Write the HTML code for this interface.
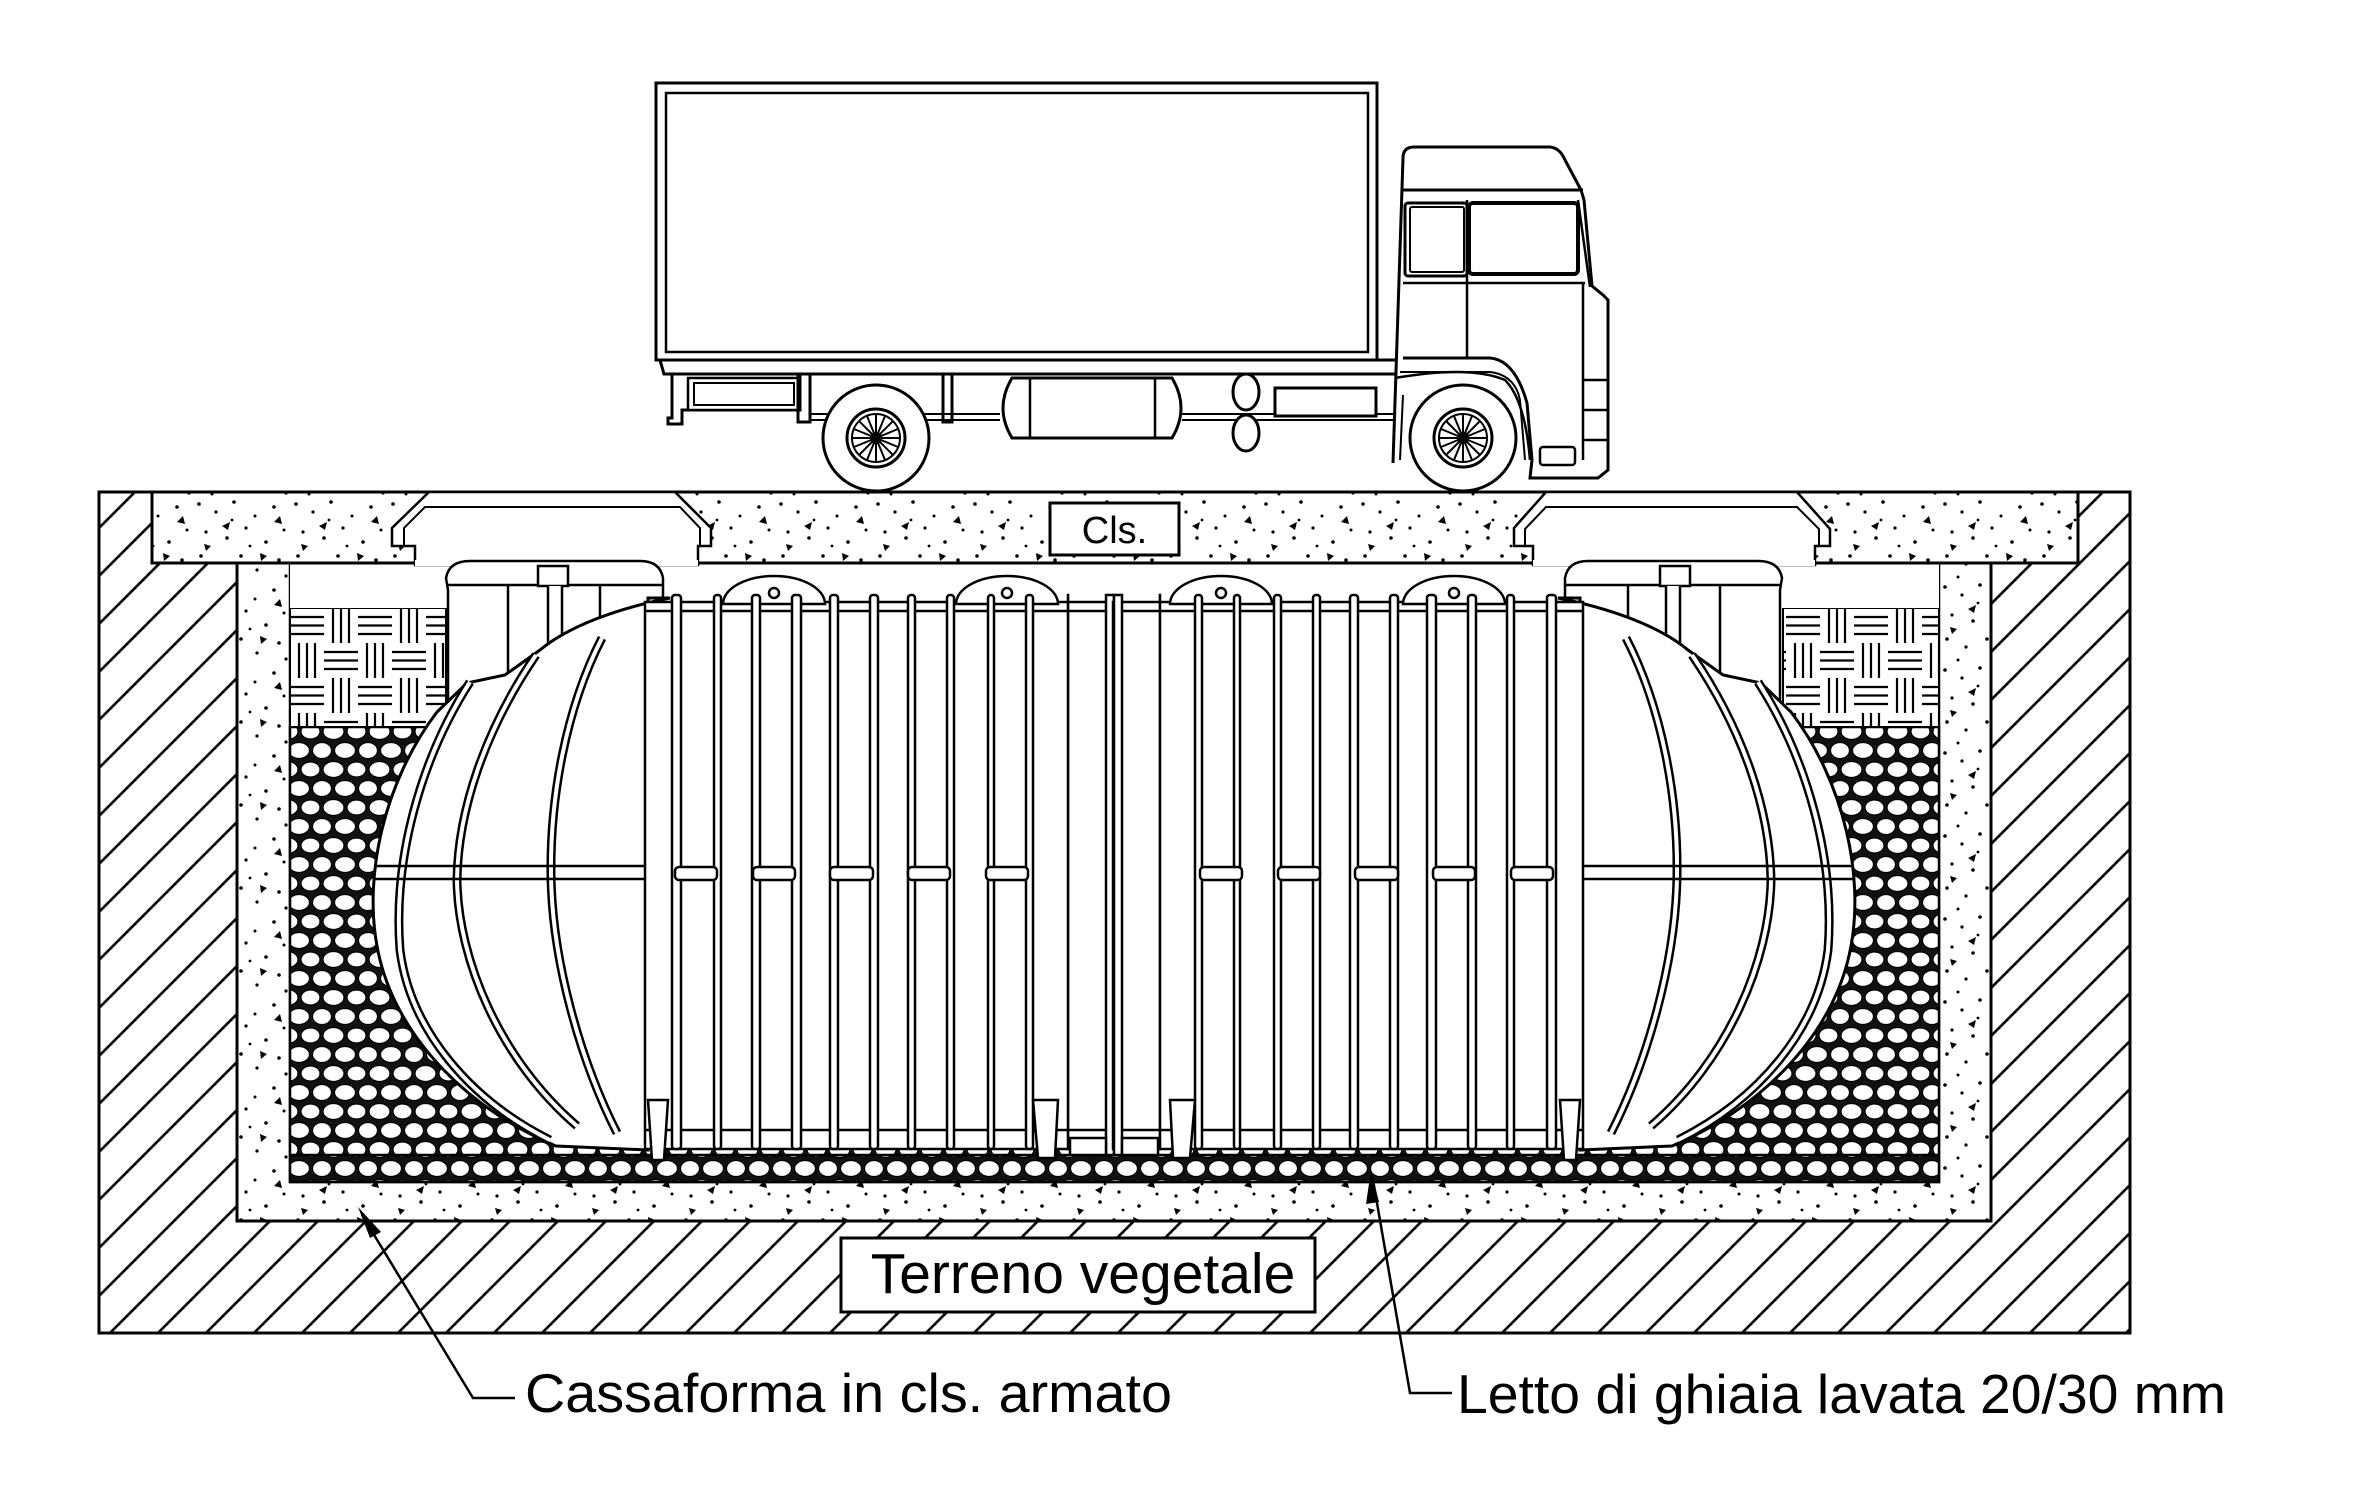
<!DOCTYPE html>
<html><head><meta charset="utf-8"><style>
html,body{margin:0;padding:0;background:#fff;}
svg{display:block;}
text{font-family:"Liberation Sans",Arial,sans-serif;fill:#000;}
</style></head><body>
<svg width="2357" height="1485" viewBox="0 0 2357 1485" xmlns="http://www.w3.org/2000/svg">
<defs>
<pattern id="hatch" patternUnits="userSpaceOnUse" width="48" height="48">
<path d="M-2,5 L5,-2 M3,48 L48,3 M1,50 L50,1" stroke="#000" stroke-width="2.6"/>
</pattern>
<pattern id="speck" patternUnits="userSpaceOnUse" width="97" height="83">
<g fill="#000">
<circle cx="5" cy="6" r="1.8"/><circle cx="22" cy="14" r="1.6"/><circle cx="40" cy="4" r="1.8"/><circle cx="61" cy="18" r="1.5"/>
<circle cx="80" cy="9" r="1.8"/><circle cx="12" cy="34" r="1.6"/><circle cx="33" cy="40" r="1.8"/><circle cx="52" cy="30" r="1.6"/>
<circle cx="72" cy="44" r="1.8"/><circle cx="90" cy="32" r="1.5"/><circle cx="7" cy="58" r="1.8"/><circle cx="26" cy="66" r="1.6"/>
<circle cx="47" cy="58" r="1.8"/><circle cx="63" cy="72" r="1.6"/><circle cx="85" cy="62" r="1.8"/><circle cx="18" cy="79" r="1.5"/>
<circle cx="92" cy="78" r="1.6"/><circle cx="56" cy="48" r="1.4"/><circle cx="38" cy="22" r="1.4"/>
<path d="M28,28 l8,-4 l-2,8z"/><path d="M66,55 l7,3 l-6,5z"/><path d="M80,24 l6,-6 l2,8z"/><path d="M10,46 l7,2 l-5,5z"/>
</g>
</pattern>
<pattern id="gravel" patternUnits="userSpaceOnUse" width="46" height="38">
<rect width="46" height="38" fill="#111"/>
<g fill="#fff" stroke="#000" stroke-width="1.2">
<ellipse cx="11.5" cy="9.5" rx="10.5" ry="8"/><ellipse cx="34.5" cy="9.5" rx="9.5" ry="7.5"/>
<ellipse cx="0" cy="28.5" rx="9.5" ry="8"/><ellipse cx="23" cy="28.5" rx="10.5" ry="8"/><ellipse cx="46" cy="28.5" rx="9.5" ry="8"/>
</g>
</pattern>
<pattern id="weave" patternUnits="userSpaceOnUse" x="290" y="608" width="68" height="70">
<rect width="68" height="70" fill="#fff"/>
<g stroke="#000" stroke-width="2.2">
<path d="M0,9 H34 M0,17.5 H34 M0,26 H34"/>
<path d="M43,0 V35 M51,0 V35 M59,0 V35"/>
<path d="M34,44 H68 M34,52.5 H68 M34,61 H68"/>
<path d="M9,35 V70 M17,35 V70 M25,35 V70"/>
</g>
</pattern>
</defs>

<rect x="99" y="492" width="2031" height="841" fill="url(#hatch)" stroke="#000" stroke-width="3"/>
<path d="M237,563 H1991 V1221 H237 Z" fill="#fff"/>
<path d="M237,563 H1991 V1221 H237 Z" fill="url(#speck)" stroke="#000" stroke-width="3"/>
<rect x="290" y="563" width="1649" height="619" fill="#fff" stroke="#000" stroke-width="2.5"/>
<rect x="290" y="727" width="1649" height="455" fill="url(#gravel)" stroke="#000" stroke-width="2.5"/>
<rect x="290" y="608" width="156" height="119" fill="url(#weave)" stroke="#000" stroke-width="2"/>
<rect x="1783" y="608" width="156" height="119" fill="url(#weave)" stroke="#000" stroke-width="2"/>
<rect x="290" y="563" width="1649" height="45" fill="#fff"/>
<line x1="290" y1="1155" x2="1939" y2="1155" stroke="#000" stroke-width="2.5"/>

<rect x="152" y="492" width="1926" height="71" fill="#fff"/>
<rect x="152" y="492" width="1926" height="71" fill="url(#speck)" stroke="#000" stroke-width="3"/>
<g fill="#fff" stroke="#000" stroke-width="2.5">
<path d="M415,565 V546 H392 V528 L429,492 H675 L711,528 V546 H698 V565 Z"/>
<path d="M1533,565 V546 H1514 V528 L1546,492 H1797 L1830,529 V546 H1815 V565 Z"/>
</g>
<g fill="none" stroke="#000" stroke-width="2">
<path d="M404,546 V528 L425,507 H680 L700,528 V546"/>
<path d="M1525,546 V529 L1546,507 H1797 L1819,529 V546"/>
</g>
<rect x="415" y="560" width="283" height="6" fill="#fff"/>
<rect x="1533" y="560" width="282" height="6" fill="#fff"/>
<rect x="1050" y="503" width="129" height="52" fill="#fff" stroke="#000" stroke-width="3"/>
<text x="1114.5" y="543" font-size="38" text-anchor="middle">Cls.</text>

<g id="tankhalf" stroke="#000" fill="#fff" stroke-width="2.5">
<path d="M448,740 V590 L446,578 Q449,561 470,561 H640 Q660,561 663,578 V740 Z"/>
<line x1="448" y1="585" x2="663" y2="585"/>
<line x1="508" y1="585" x2="508" y2="700"/>
<line x1="600" y1="585" x2="600" y2="690"/>
<rect x="538" y="566" width="30" height="20"/>
<path d="M548,586 V694 L562,688 V586"/>
<path d="M670,598 C620,608 570,625 540,650 L505,675 L467,683 L437,712 C385,780 360,880 380,960 C400,1040 470,1110 556,1146 L648,1150 V598 Z" stroke-width="3"/>
<path d="M470,682 C420,760 393,860 400,950 C410,1030 470,1100 550,1140" fill="none" stroke-width="9"/>
<path d="M470,682 C420,760 393,860 400,950 C410,1030 470,1100 550,1140" fill="none" stroke="#fff" stroke-width="4"/>
<path d="M536,655 C485,730 458,810 457,880 C458,960 500,1060 577,1126" fill="none" stroke-width="9"/>
<path d="M536,655 C485,730 458,810 457,880 C458,960 500,1060 577,1126" fill="none" stroke="#fff" stroke-width="4"/>
<path d="M602,638 C565,710 550,800 551,875 C552,960 580,1060 617,1133" fill="none" stroke-width="9"/>
<path d="M602,638 C565,710 550,800 551,875 C552,960 580,1060 617,1133" fill="none" stroke="#fff" stroke-width="4"/>
<rect x="645" y="602" width="470" height="547"/>
<line x1="645" y1="611" x2="1115" y2="611"/>
<line x1="645" y1="1130" x2="1115" y2="1130"/>
<path d="M723,604 A51,28 0 0 1 825,604 Z"/>
<circle cx="774" cy="593" r="5"/>
<path d="M956,604 A51,28 0 0 1 1058,604 Z"/>
<circle cx="1007" cy="593" r="5"/>
<g fill="#fff">
<rect x="672" y="595" width="9" height="554" rx="3"/>
<rect x="714" y="595" width="7" height="554" rx="3"/>
<rect x="752" y="595" width="8" height="554" rx="3"/>
<rect x="792" y="595" width="9" height="554" rx="3"/>
<rect x="830" y="595" width="8" height="554" rx="3"/>
<rect x="870" y="595" width="8" height="554" rx="3"/>
<rect x="908" y="595" width="7" height="554" rx="3"/>
<rect x="947" y="595" width="7" height="554" rx="3"/>
<rect x="988" y="595" width="6" height="554" rx="3"/>
<rect x="1026" y="595" width="7" height="554" rx="3"/>
<rect x="1068" y="595" width="0.1" height="554"/>
<rect x="1106" y="595" width="8" height="560"/>
</g>
<path d="M374,866 H645 M374,879 H645" fill="none"/>
<g>
<rect x="675" y="867" width="42" height="13" rx="4"/>
<rect x="753" y="867" width="42" height="13" rx="4"/>
<rect x="830" y="867" width="43" height="13" rx="4"/>
<rect x="908" y="867" width="42" height="13" rx="4"/>
<rect x="986" y="867" width="42" height="13" rx="4"/>
</g>
<path d="M648,1100 H668 L664,1160 H652 Z"/>
<path d="M1033,1100 H1058 L1055,1158 H1038 Z"/>
<path d="M1070,1138 H1106 V1155 H1070 Z"/>
</g>
<use href="#tankhalf" transform="translate(2228,0) scale(-1,1)"/>

<g stroke="#000" fill="#fff" stroke-width="3">
<rect x="656" y="83" width="721" height="277"/>
<rect x="666" y="93" width="702" height="259" stroke-width="2.5"/>
<path d="M660,360 H1400 V374 H664 Z"/>
<path d="M672,374 V418 H668 V424 H682 V410 H800 V374" fill="none"/>
<rect x="688" y="378" width="112" height="32" stroke-width="2.5"/>
<rect x="694" y="383" width="100" height="22" stroke-width="2"/>
<path d="M798,374 V422 H810 V374" fill="none"/>
<path d="M943,374 V422 H952 V374" fill="none"/>
<path d="M810,414 H1000 M810,420 H1000 M1182,414 H1395 M1182,420 H1395" fill="none" stroke-width="2"/>
<path d="M1012,378 H1172 Q1190,408 1172,438 H1012 Q994,408 1012,378 Z"/>
<path d="M1030,379 V437 M1155,379 V437" fill="none" stroke-width="2.5"/>
<ellipse cx="1246" cy="392" rx="13" ry="18"/>
<ellipse cx="1246" cy="433" rx="13" ry="18"/>
<rect x="1275" y="388" width="101" height="28"/>
<path d="M1393,463 L1403,158 Q1403,147 1414,147 H1550 Q1560,148 1565,160 L1581,190 L1584,200 L1592,286 L1603,295 L1608,300 V470 L1598,478 H1530 L1532,460 L1527,403 Q1515,360 1490,358 H1403"/>
<path d="M1403,190 H1583" fill="none"/>
<path d="M1578,200 L1590,287" fill="none" stroke-width="2.5"/>
<rect x="1405" y="203" width="62" height="73" rx="3"/>
<rect x="1410" y="207" width="54" height="65" rx="2" stroke-width="2"/>
<rect x="1469" y="203" width="109" height="71" rx="4" stroke-width="4"/>
<path d="M1403,283 H1585 M1467,200 V358" fill="none" stroke-width="2.5"/>
<path d="M1583,283 V460 M1583,380 H1608 M1583,410 H1608 M1583,440 H1608" fill="none" stroke-width="2.5"/>
<rect x="1540" y="447" width="35" height="18" rx="3" stroke-width="2.5"/>
<path d="M1395,378 Q1470,365 1505,380 Q1525,400 1530,460" fill="none" stroke-width="2.5"/>
<path d="M1400,372 H1490 Q1515,375 1520,400 L1525,460" fill="none" stroke-width="2"/>
<path d="M1403,395 L1400,460" fill="none" stroke-width="2"/>
<circle cx="876" cy="438" r="53"/>
<circle cx="876" cy="438" r="29"/>
<circle cx="876" cy="438" r="24" stroke-width="2"/>
<circle cx="1463" cy="438" r="53"/>
<circle cx="1463" cy="438" r="29"/>
<circle cx="1463" cy="438" r="24" stroke-width="2"/>
</g>
<g stroke="#000" stroke-width="2">
<path d="M876,414 V462 M852,438 H900 M859,421 L893,455 M893,421 L859,455 M867,416 L885,460 M885,416 L867,460 M854,429 L898,447 M898,429 L854,447"/>
<path d="M1463,414 V462 M1439,438 H1487 M1446,421 L1480,455 M1480,421 L1446,455 M1454,416 L1472,460 M1472,416 L1454,460 M1441,429 L1485,447 M1485,429 L1441,447"/>
</g>
<circle cx="876" cy="438" r="6" fill="#000"/>
<circle cx="1463" cy="438" r="6" fill="#000"/>

<rect x="841" y="1238" width="474" height="74" fill="#fff" stroke="#000" stroke-width="3"/>
<text x="1083" y="1293" font-size="57" text-anchor="middle">Terreno vegetale</text>

<g stroke="#000" stroke-width="2.5" fill="none">
<path d="M362,1215 L473,1398 H515"/>
<path d="M1373,1180 L1410,1393 H1452"/>
</g>
<path d="M358,1207 L381,1232 L370,1238 Z" fill="#000"/>
<path d="M1371,1170 L1379,1202 L1366,1204 Z" fill="#000"/>
<text x="525" y="1412" font-size="55" textLength="647" lengthAdjust="spacingAndGlyphs">Cassaforma in cls. armato</text>
<text x="1457" y="1413" font-size="55" textLength="769" lengthAdjust="spacingAndGlyphs">Letto di ghiaia lavata 20/30 mm</text>
</svg>
</body></html>
